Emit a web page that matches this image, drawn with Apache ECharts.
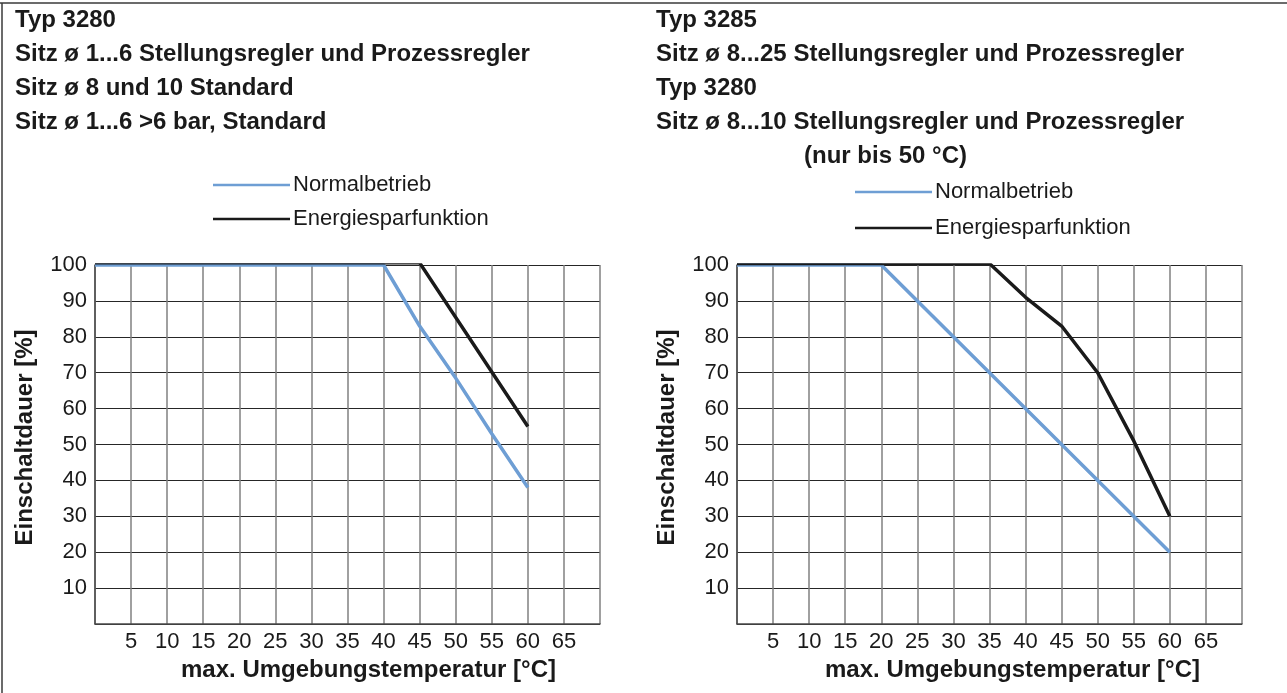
<!DOCTYPE html>
<html>
<head>
<meta charset="utf-8">
<script src="https://cdn.jsdelivr.net/npm/echarts@6/dist/echarts.min.js"></script>
<style>
html,body{margin:0;padding:0;background:#fff;}
#chart{width:1287px;height:693px;}
</style>
</head>
<body>
<div id="chart"></div>
<script>
// ---- data ----
var xTicks = [5, 10, 15, 20, 25, 30, 35, 40, 45, 50, 55, 60, 65];
var yTicks = [10, 20, 30, 40, 50, 60, 70, 80, 90, 100];

var leftNormX   = [0, 40, 45, 50, 55, 60];
var leftNormY   = [100, 100, 83, 68.5, 53, 38];
var leftEnergyX = [0, 45, 60];
var leftEnergyY = [100.6, 100.6, 55];

var rightNormX   = [0, 20, 60];
var rightNormY   = [100, 100, 20];
var rightEnergyX = [0, 35, 40, 45, 50, 55, 60];
var rightEnergyY = [100.4, 100.4, 91, 83, 70, 51, 30];

var seriesNames = ['Normalbetrieb', 'Energiesparfunktion'];
var leftTitle = 'Typ 3280\nSitz ø 1...6 Stellungsregler und Prozessregler\nSitz ø 8 und 10 Standard\nSitz ø 1...6 >6 bar, Standard';
var rightTitle = 'Typ 3285\nSitz ø 8...25 Stellungsregler und Prozessregler\nTyp 3280\nSitz ø 8...10 Stellungsregler und Prozessregler';
var rightTitleNote = '(nur bis 50 °C)';
var yName = 'Einschaltdauer [%]';
var xName = 'max. Umgebungstemperatur [°C]';

function pairs(xs, ys) { return xs.map(function (x, i) { return [x, ys[i]]; }); }

var FONT = 'Liberation Sans, Arial, Helvetica, sans-serif';
var BLUE = '#6e9ed4';
var BLACK = '#1a1a1a';
var TXT = '#1a1a1a';

function xAxisCfg(idx, shift) {
  return {
    type: 'value', gridIndex: idx, min: 0, max: 70, interval: 5,
    name: xName, nameLocation: 'middle', nameGap: 30,
    nameTextStyle: { fontFamily: FONT, fontSize: 24, fontWeight: 'bold', color: TXT, padding: [0, 0, 0, shift] },
    axisLine: { lineStyle: { color: '#4a4a4a', width: 1.5 } },
    axisTick: { show: false },
    axisLabel: {
      fontFamily: FONT, fontSize: 22, color: TXT, margin: 7,
      formatter: function (v) { return xTicks.indexOf(v) >= 0 ? String(v) : ''; }
    },
    splitLine: { show: true, lineStyle: { color: '#808080', width: 1.5 } }
  };
}
function yAxisCfg(idx) {
  return {
    type: 'value', gridIndex: idx, min: 0, max: 100, interval: 10,
    name: yName, nameLocation: 'middle', nameGap: 58, nameRotate: 90,
    nameTextStyle: { fontFamily: FONT, fontSize: 24, fontWeight: 'bold', color: TXT, padding: [0, 0, 0, 14] },
    axisLine: { lineStyle: { color: '#4a4a4a', width: 1.5 } },
    axisTick: { show: false },
    axisLabel: {
      fontFamily: FONT, fontSize: 22, color: TXT, margin: 8,
      formatter: function (v) { return yTicks.indexOf(v) >= 0 ? String(v) : ''; }
    },
    splitLine: { show: true, lineStyle: { color: '#262626', width: 1 } }
  };
}
function lineSeries(name, idx, data, color) {
  return {
    name: name, type: 'line', xAxisIndex: idx, yAxisIndex: idx,
    data: data, symbol: 'none', silent: true,
    lineStyle: { color: color, width: 3.5 }, itemStyle: { color: color }
  };
}
function legendCfg(left, top, gap) {
  return {
    data: seriesNames, orient: 'vertical', left: left, top: top, padding: 0,
    itemWidth: 77, itemHeight: 2.5, itemGap: gap, icon: 'rect', selectedMode: false,
    textStyle: { fontFamily: FONT, fontSize: 22, color: TXT, padding: [0, 0, 0, -2] }
  };
}

var titleStyle = { fontFamily: FONT, fontSize: 24, fontWeight: 'bold', color: TXT, lineHeight: 34 };

var chart = echarts.init(document.getElementById('chart'));
chart.setOption({
  animation: false,
  backgroundColor: '#fff',
  title: [
    { text: leftTitle, left: 15, top: 3, padding: 0, textStyle: titleStyle },
    { text: rightTitle, left: 656, top: 3, padding: 0, textStyle: titleStyle },
    { text: rightTitleNote, left: 804, top: 139, padding: 0, textStyle: titleStyle }
  ],
  legend: [legendCfg(213, 174, 12), legendCfg(855, 181, 14)],
  grid: [
    { left: 95, top: 265, width: 505, height: 359 },
    { left: 737, top: 265, width: 505, height: 359 }
  ],
  xAxis: [xAxisCfg(0, 42), xAxisCfg(1, 46)],
  yAxis: [yAxisCfg(0), yAxisCfg(1)],
  series: [
    lineSeries(seriesNames[0], 0, pairs(leftNormX, leftNormY), BLUE),
    lineSeries(seriesNames[1], 0, pairs(leftEnergyX, leftEnergyY), BLACK),
    lineSeries(seriesNames[0], 1, pairs(rightNormX, rightNormY), BLUE),
    lineSeries(seriesNames[1], 1, pairs(rightEnergyX, rightEnergyY), BLACK)
  ],
  graphic: [
    { type: 'line', shape: { x1: 0, y1: 3, x2: 1287, y2: 3 }, style: { stroke: '#3a3a3a', lineWidth: 1.5 } },
    { type: 'line', shape: { x1: 2, y1: 3, x2: 2, y2: 693 }, style: { stroke: '#3a3a3a', lineWidth: 1.5 } }
  ]
});
</script>
</body>
</html>
